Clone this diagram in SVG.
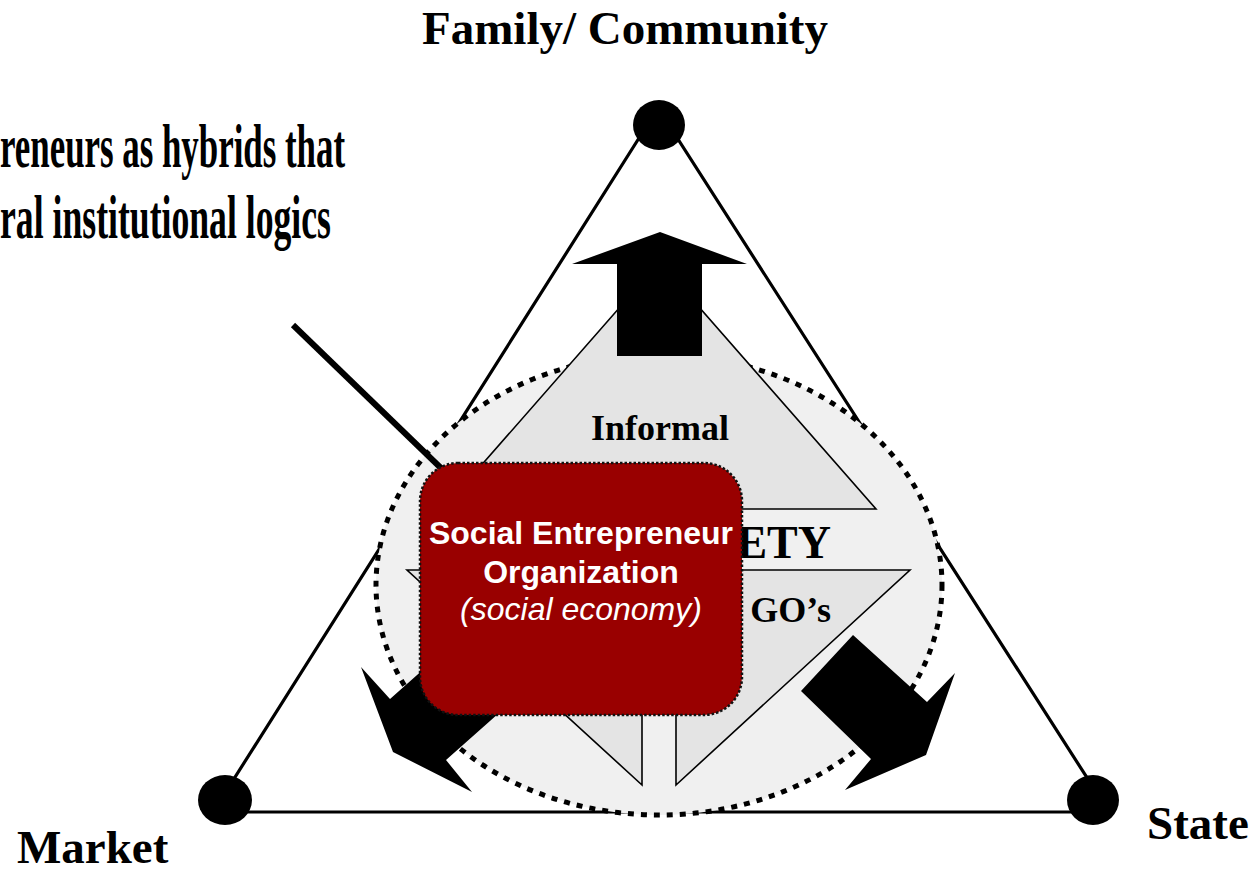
<svg xmlns="http://www.w3.org/2000/svg" width="1255" height="874" viewBox="0 0 1255 874">
  <style>
    .lbl { font-family: "Liberation Serif", "Times New Roman", serif; font-weight: bold; fill: #000; }
    .cond { font-family: "Liberation Serif", "Times New Roman", serif; font-weight: bold; font-size: 62px; fill: #000; }
    .boxt { font-family: "Liberation Sans", Arial, sans-serif; fill: #fff; font-size: 32px; text-anchor: middle; }
    .inner { fill: #e4e4e4; stroke: #000; stroke-width: 1.6; stroke-linejoin: miter; }
    .arrow { fill: #000; stroke: none; }
  </style>
  <rect width="1255" height="874" fill="#fff"/>

  <g id="outer-triangle">
    <polygon points="658,108 213,812 1109,812" fill="none" stroke="#000" stroke-width="3.2"/>
  </g>

  <g id="node-family">
    <ellipse cx="659" cy="125" rx="26" ry="25" fill="#000"/>
    <text class="lbl" x="625" y="44" font-size="47" text-anchor="middle">Family/ Community</text>
  </g>
  <g id="node-market">
    <ellipse cx="225" cy="800" rx="27" ry="25" fill="#000"/>
    <text class="lbl" x="17" y="863" font-size="47">Market</text>
  </g>
  <g id="node-state">
    <ellipse cx="1093" cy="800" rx="26" ry="25" fill="#000"/>
    <text class="lbl" x="1147" y="839" font-size="47">State</text>
  </g>

  <g id="civil-society">
    <ellipse cx="659" cy="585" rx="283" ry="230" fill="#f0f0f0" stroke="#000" stroke-width="5" stroke-dasharray="6 7"/>
    <polygon class="inner" points="659.5,262 443,509 876,509"/>
    <polygon class="inner" points="407,570 642,570 642,785"/>
    <polygon class="inner" points="676,570 910,570 676,785"/>
    <text class="lbl" x="660" y="440" font-size="36" text-anchor="middle">Informal</text>
    <text class="lbl" x="831" y="558" font-size="46" text-anchor="end">ETY</text>
    <text class="lbl" x="831" y="622" font-size="36" text-anchor="end">GO’s</text>
  </g>

  <g id="connectors">
    <polygon class="arrow" points="660,232 747,264 702,264 702,356 617,356 617,264 572,264"/>
    <polygon class="arrow" points="393,752 361,667 390,699 461,636 517,697 446,760 472,792"/>
    <polygon class="arrow" points="853,635 927,702 955,673 926,755 845,790 871,759 801,691"/>
    <line x1="293" y1="325" x2="444" y2="471" stroke="#000" stroke-width="6"/>
  </g>

  <g id="callout">
    <text class="cond" x="0" y="167" textLength="345" lengthAdjust="spacingAndGlyphs">reneurs as hybrids that</text>
    <text class="cond" x="0" y="238" textLength="331" lengthAdjust="spacingAndGlyphs">ral institutional logics</text>
  </g>

  <g id="node-seo">
    <rect x="420" y="463" width="322" height="252" rx="38" ry="38" fill="#990000" stroke="#111" stroke-width="2.5" stroke-dasharray="2.5 2"/>
    <text class="boxt" x="581" y="544" font-weight="bold">Social Entrepreneur</text>
    <text class="boxt" x="581" y="583" font-weight="bold">Organization</text>
    <text class="boxt" x="581" y="620" font-style="italic">(social economy)</text>
  </g>
</svg>
